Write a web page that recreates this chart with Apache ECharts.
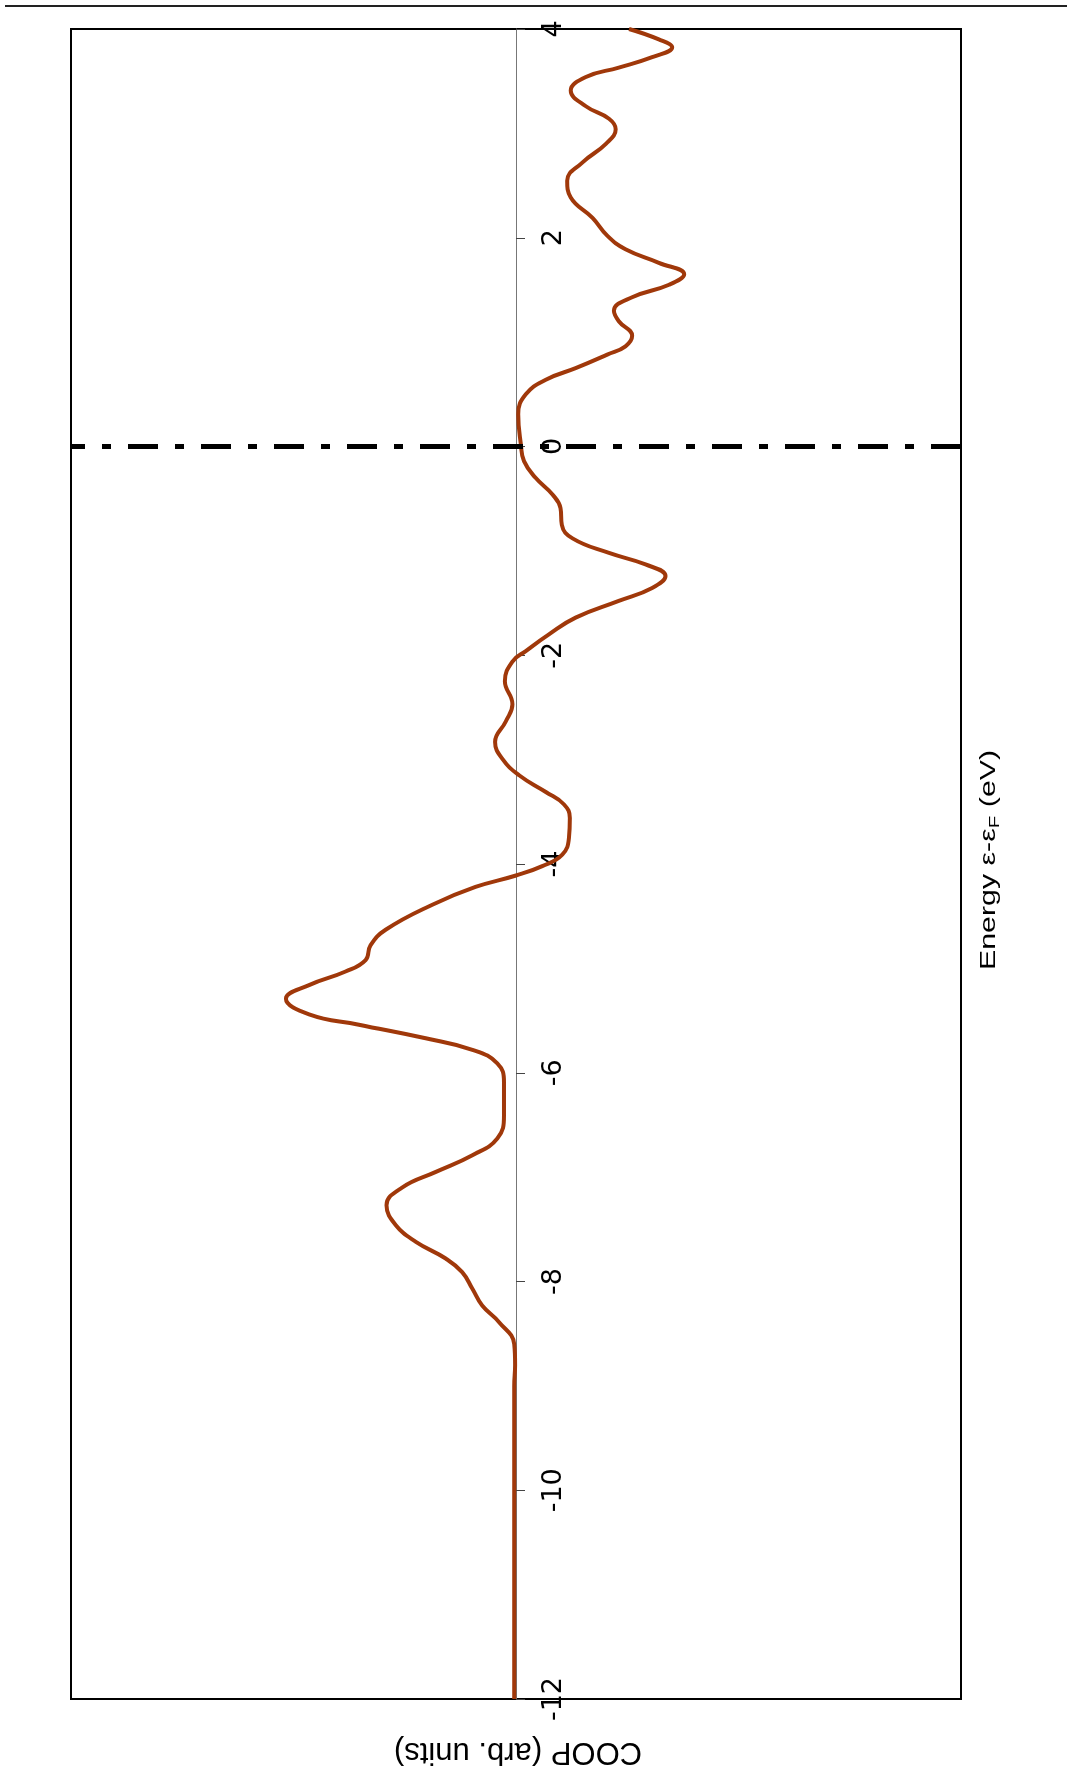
<!DOCTYPE html>
<html>
<head>
<meta charset="utf-8">
<script src="https://cdn.jsdelivr.net/npm/echarts@6/dist/echarts.min.js"></script>
<style>
html,body{margin:0;padding:0;background:#fff;}
#c{width:1067px;height:1769px;}
</style>
</head>
<body>
<div id="c"></div>
<script>
// Energy (eV, relative to Fermi level) and COOP (arb. units; positive = bonding, drawn to the left)
const energy = [-12.0, -11.0, -10.0, -9.5, -9.0, -8.8, -8.6, -8.39, -8.23, -8.07, -7.91, -7.78, -7.62, -7.46, -7.27,
  -7.10, -6.95, -6.79, -6.63, -6.41, -6.09, -5.91, -5.78, -5.67, -5.54, -5.44, -5.29, -5.16, -5.03, -4.92,
  -4.78, -4.63, -4.39, -4.22, -4.11, -4.02, -3.91, -3.75, -3.56, -3.43, -3.31, -3.15, -2.99, -2.83, -2.635,
  -2.47, -2.25, -2.06, -1.96, -1.80, -1.64, -1.48, -1.355, -1.24, -1.13, -1.02, -0.88, -0.75, -0.59, -0.46,
  -0.30, -0.14, 0.02, 0.31, 0.50, 0.64, 0.75, 0.88, 0.96, 1.06, 1.20, 1.30, 1.43, 1.55, 1.65,
  1.76, 1.89, 2.02, 2.19, 2.385, 2.545, 2.72, 2.90, 3.04, 3.14, 3.26, 3.41, 3.54, 3.63, 3.73,
  3.824, 3.90, 4.0];
const coop = [0.004, 0.004, 0.004, 0.004, 0.004, 0.002, 0.004, 0.038, 0.076, 0.098, 0.121, 0.158, 0.225, 0.270, 0.291,
  0.256, 0.180, 0.098, 0.042, 0.027, 0.027, 0.042, 0.098, 0.203, 0.353, 0.465, 0.517, 0.465, 0.383, 0.338,
  0.327, 0.293, 0.188, 0.091, 0.0, -0.059, -0.104, -0.119, -0.121, -0.108, -0.067, -0.007, 0.031, 0.047, 0.023,
  0.008, 0.025, 0.008, -0.022, -0.074, -0.134, -0.231, -0.306, -0.336, -0.291, -0.209, -0.127, -0.103, -0.100, -0.082,
  -0.044, -0.018, -0.011, -0.005, -0.022, -0.067, -0.134, -0.205, -0.246, -0.261, -0.231, -0.220, -0.261, -0.344, -0.378,
  -0.321, -0.246, -0.205, -0.172, -0.123, -0.115, -0.149, -0.202, -0.224, -0.209, -0.157, -0.123, -0.157, -0.231, -0.306,
  -0.351, -0.321, -0.254];
const energyMin = -12, energyMax = 4, energyStep = 2;
const coopMin = -1, coopMax = 1;
const fermiLevel = 0;
const energyTitleMain = 'Energy ε-ε', energyTitleSub = 'F', energyTitleTail = ' (eV)';
const coopTitle = 'COOP (arb. units)';

const points = energy.map((e, i) => [coop[i], e]);

const gridLeft = 71, gridRight = 106, chartW = 1067;
const gridW = chartW - gridLeft - gridRight;
// place the energy axis at COOP = 0 (x axis is inverted: max on the left)
const zeroOffset = -gridW * (0 - coopMin) / (coopMax - coopMin);

const chart = echarts.init(document.getElementById('c'), null, {renderer: 'canvas'});
chart.setOption({
  animation: false,
  backgroundColor: '#ffffff',
  grid: {
    left: gridLeft, right: gridRight, top: 29, bottom: 70,
    show: true, borderColor: '#000', borderWidth: 2, backgroundColor: 'transparent'
  },
  xAxis: {
    type: 'value', min: coopMin, max: coopMax, inverse: true,
    axisLine: {show: false}, axisTick: {show: false}, axisLabel: {show: false}, splitLine: {show: false}
  },
  yAxis: {
    type: 'value', min: energyMin, max: energyMax, interval: energyStep,
    position: 'right', offset: zeroOffset,
    axisLine: {show: true, onZero: false, lineStyle: {color: '#777', width: 1}},
    axisTick: {show: true, length: 9, lineStyle: {color: '#444', width: 1}},
    axisLabel: {
      show: true, rotate: 90, margin: 24, fontSize: 27, color: '#000',
      fontFamily: 'DejaVu Sans', showMinLabel: true, showMaxLabel: true
    },
    splitLine: {show: false}
  },
  series: [{
    type: 'line',
    data: points,
    showSymbol: false,
    smooth: 0.45,
    lineStyle: {color: '#a0380a', width: 4},
    clip: true,
    markLine: {
      silent: true,
      symbol: ['none', 'none'],
      label: {show: false},
      lineStyle: {color: '#000', width: 5, type: [30, 17, 9, 17], cap: 'butt'},
      data: [{yAxis: fermiLevel}]
    }
  }],
  graphic: [
    {
      type: 'line', shape: {x1: 5, y1: 6, x2: 1067, y2: 6},
      style: {stroke: '#222', lineWidth: 2}
    },
    {
      type: 'text', x: 989, y: 860, rotation: Math.PI / 2, scaleX: 1.38, scaleY: 1,
      style: {
        text: '{a|' + energyTitleMain + '}{b|' + energyTitleSub + '}{a|' + energyTitleTail + '}',
        align: 'center', verticalAlign: 'middle', fill: '#000',
        rich: {
          a: {fontSize: 22, fontFamily: 'Liberation Sans', lineHeight: 26, fill: '#000'},
          b: {fontSize: 15, fontFamily: 'Liberation Sans', lineHeight: 26, verticalAlign: 'bottom', fill: '#000'}
        }
      }
    },
    {
      type: 'text', x: 518, y: 1752, rotation: Math.PI,
      style: {
        text: coopTitle, align: 'center', verticalAlign: 'middle',
        fontSize: 31, fontFamily: 'Liberation Sans', fill: '#000'
      }
    }
  ]
});
</script>
</body>
</html>
